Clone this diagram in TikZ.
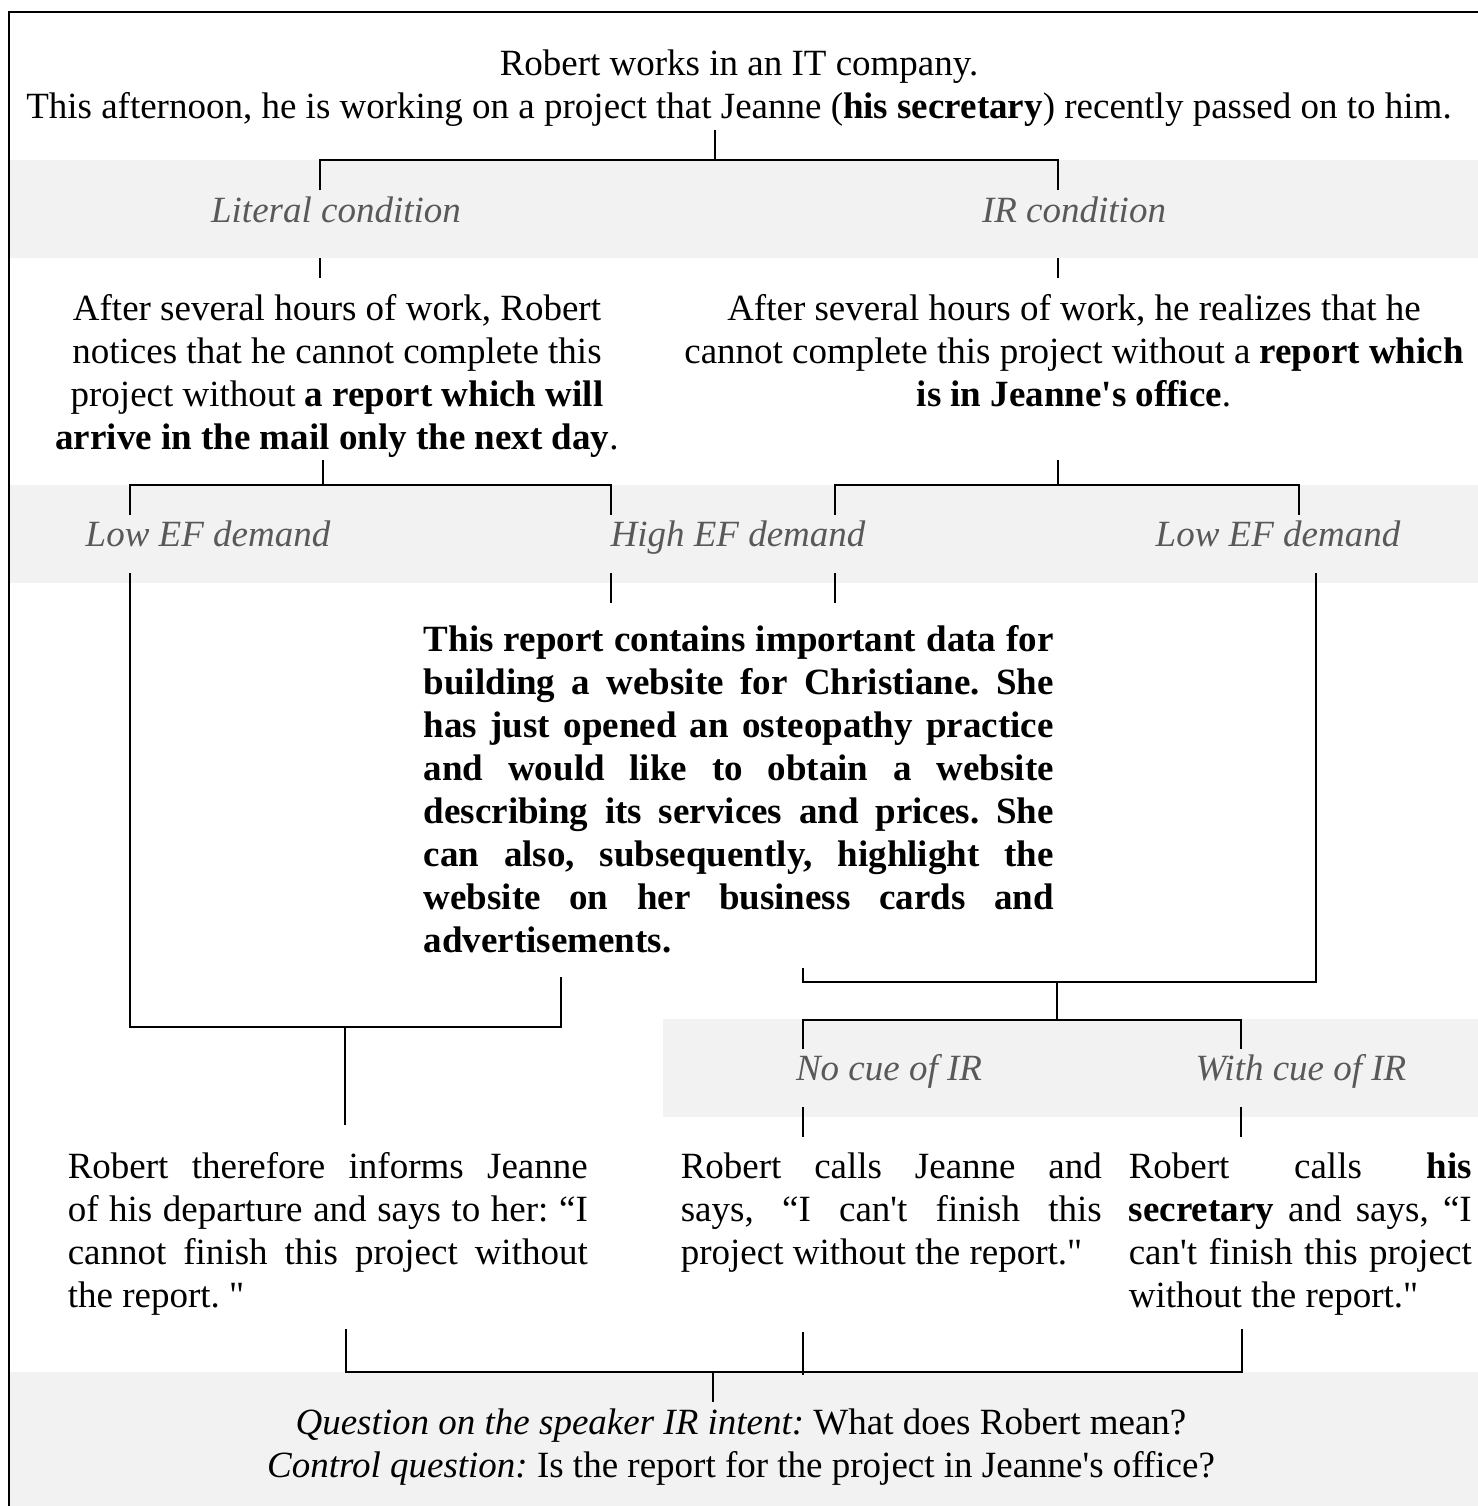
\documentclass[tikz,border=0pt]{standalone}
\usepackage{fontspec}
\setmainfont{Liberation Serif}
\definecolor{bandgray}{RGB}{242,242,242}
\definecolor{labelgray}{RGB}{89,89,89}
\newcommand*{\aps}{\textquotesingle}
\newcommand*{\dq}{\textquotedbl}
\tolerance=9999
\hyphenpenalty=10000
\frenchspacing

\begin{document}
\begin{tikzpicture}[x=0.5pt,y=-0.5pt,line width=0.8pt,
    txt/.style={inner sep=0pt,font=\fontsize{18.5}{21.5}\selectfont},
    cond/.style={txt,anchor=base,text=labelgray,font=\fontsize{18.5}{21.5}\selectfont\itshape},
    para/.style={txt,anchor=north,align=center},
    block/.style={txt,anchor=north west,align=justify,text width=#1}]
    \useasboundingbox (0,0) rectangle (1478,1506);
    \fill[bandgray] (9,160) rectangle (1478,258);
    \fill[bandgray] (9,485) rectangle (1478,583);
    \fill[bandgray] (663,1019) rectangle (1478,1117);
    \fill[bandgray] (9,1372) rectangle (1478,1506);
    \draw[line width=1pt] (9,1506) -- (9,12) -- (1478,12);

    \node[para] (intro) at (739,49) {Robert works in an IT company.\\
        This afternoon, he is working on a project that Jeanne (\textbf{his secretary}) recently passed on to him.};
    \node[cond] (lit) at (336,222) {Literal condition};
    \node[cond] (ir) at (1074,222) {IR condition};
    \node[para] (litpara) at (337,294) {After several hours of work, Robert\\
        notices that he cannot complete this\\
        project without \textbf{a report which will}\\
        \textbf{arrive in the mail only the next day}.};
    \node[para] (irpara) at (1074,294) {After several hours of work, he realizes that he\\
        cannot complete this project without a \textbf{report which}\\
        \textbf{is in Jeanne\aps s office}.};
    \node[cond] (lowa) at (208,546) {Low EF demand};
    \node[cond] (high) at (738,546) {High EF demand};
    \node[cond] (lowb) at (1278,546) {Low EF demand};
    \node[block=315pt] (website) at (423,625) {\bfseries This report contains important data for\linebreak
        building a website for Christiane. She\linebreak
        has just opened an osteopathy practice\linebreak
        and would like to obtain a website\linebreak
        describing its services and prices. She\linebreak
        can also, subsequently, highlight the\linebreak
        website on her business cards and\linebreak
        advertisements.};
    \node[cond] (nocue) at (889,1080) {No cue of IR};
    \node[cond] (withcue) at (1301,1080) {With cue of IR};
    \node[block=260pt] (depart) at (67,1152) {Robert therefore informs Jeanne\linebreak
        of his departure and says to her: “I\linebreak
        cannot finish this project without\linebreak
        the report. \dq};
    \node[block=210.5pt] (callj) at (680,1152) {Robert calls Jeanne and\linebreak
        says, “I can\aps t finish this\linebreak
        project without the report.\dq};
    \node[block=171.5pt] (calls) at (1128,1152) {Robert calls \textbf{his}\linebreak
        \textbf{secretary} and says, “I\linebreak
        can\aps t finish this project\linebreak
        without the report.\dq};
    \node[para] (quest) at (741,1408) {\textit{Question on the speaker IR intent:} What does Robert mean?\\
        \textit{Control question:} Is the report for the project in Jeanne\aps s office?};

    \coordinate (intro-out) at (715,130); \coordinate (condbar) at (715,160);
    \coordinate (lit-in) at (320,190); \coordinate (ir-in) at (1058,190);
    \coordinate (lit-out) at (320,258); \coordinate (lit-end) at (320,278);
    \coordinate (ir-out) at (1058,258); \coordinate (ir-end) at (1058,278);
    \draw (intro-out) -- (condbar);
    \draw (lit-in) -- (lit-in |- condbar) -- (ir-in |- condbar) -- (ir-in);
    \draw (lit-out) -- (lit-end);
    \draw (ir-out) -- (ir-end);

    \coordinate (litpara-out) at (323,460); \coordinate (efbar-l) at (323,485);
    \coordinate (lowa-in) at (130,515); \coordinate (high-in) at (611,515);
    \coordinate (irpara-out) at (1058,460); \coordinate (efbar-r) at (1058,485);
    \coordinate (high2-in) at (835,515); \coordinate (lowb-in) at (1299,515);
    \draw (litpara-out) -- (efbar-l);
    \draw (lowa-in) -- (lowa-in |- efbar-l) -- (high-in |- efbar-l) -- (high-in);
    \draw (irpara-out) -- (efbar-r);
    \draw (high2-in) -- (high2-in |- efbar-r) -- (lowb-in |- efbar-r) -- (lowb-in);

    \coordinate (high-out) at (611,573); \coordinate (high-end) at (611,603);
    \coordinate (high2-out) at (835,573); \coordinate (high2-end) at (835,603);
    \draw (high-out) -- (high-end);
    \draw (high2-out) -- (high2-end);
    \coordinate (lowa-out) at (130,573); \coordinate (merge-l) at (345,1027);
    \coordinate (website-l) at (561,977); \coordinate (depart-in) at (345,1125);
    \draw (lowa-out) |- (merge-l) -| (website-l);
    \draw (merge-l) -- (depart-in);
    \coordinate (lowb-out) at (1316,573); \coordinate (merge-r) at (1057,982);
    \coordinate (website-r) at (803,968); \coordinate (cuebar) at (1057,1020);
    \coordinate (nocue-in) at (803,1049); \coordinate (withcue-in) at (1241,1049);
    \draw (lowb-out) |- (merge-r) -| (website-r);
    \draw (merge-r) -- (cuebar);
    \draw (nocue-in) |- (cuebar) -| (withcue-in);
    \coordinate (nocue-out) at (803,1107); \coordinate (nocue-end) at (803,1137);
    \coordinate (withcue-out) at (1241,1107); \coordinate (withcue-end) at (1241,1137);
    \draw (nocue-out) -- (nocue-end);
    \draw (withcue-out) -- (withcue-end);

    \coordinate (depart-out) at (346,1329); \coordinate (qbar) at (713,1372);
    \coordinate (calls-out) at (1242,1329); \coordinate (quest-in) at (713,1402);
    \coordinate (callj-out) at (803,1332); \coordinate (callj-end) at (803,1375);
    \draw (depart-out) |- (qbar) -| (calls-out);
    \draw (callj-out) -- (callj-end);
    \draw (qbar) -- (quest-in);
\end{tikzpicture}
\end{document}
